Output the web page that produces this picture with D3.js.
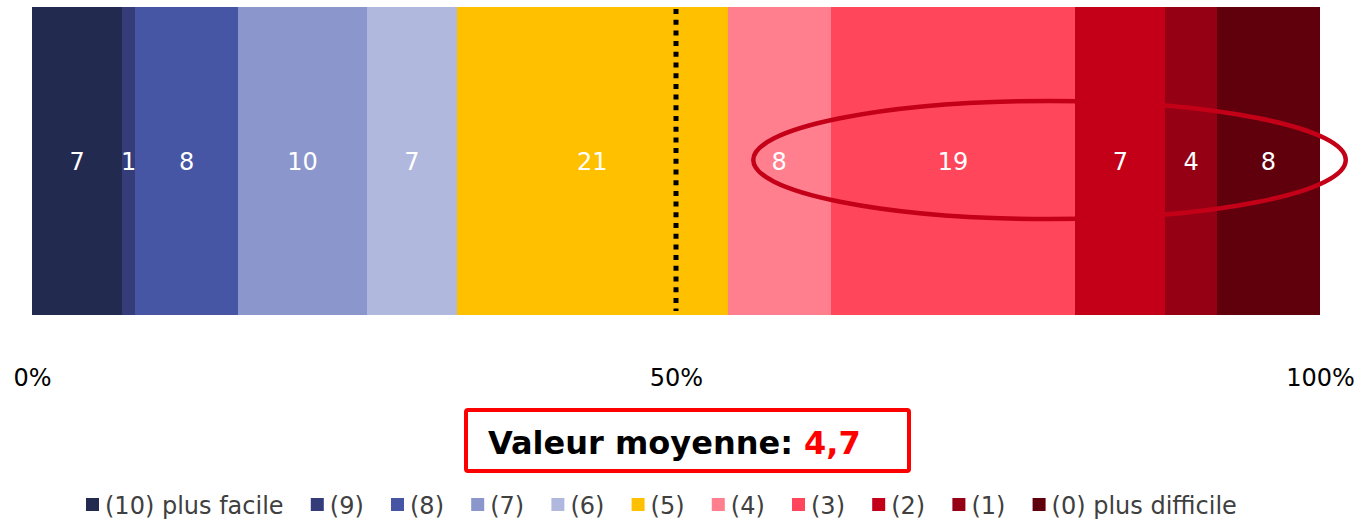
<!DOCTYPE html>
<html>
<head>
<meta charset="utf-8">
<script src="https://cdn.jsdelivr.net/npm/d3@7"></script>
<style>
  body { margin: 0; background: #fff; }
  text { font-family: "DejaVu Sans", Verdana, sans-serif; }
</style>
</head>
<body>
<div id="chart"></div>
<script>
// Data
const categories = ["(10) plus facile", "(9)", "(8)", "(7)", "(6)", "(5)", "(4)", "(3)", "(2)", "(1)", "(0) plus difficile"];
const values = [7, 1, 8, 10, 7, 21, 8, 19, 7, 4, 8];
const colors = ["#222A4F", "#343D7A", "#4755A5", "#8A96CC", "#B0B8DD", "#FFC000",
                "#FF7F8E", "#FF465A", "#C40018", "#950014", "#60000D"];
const tickValues = [0, 50, 100];
const meanLabel = "Valeur moyenne: ";
const meanValue = "4,7";
const midLine = 50;
// highlighted range (in % of the bar), drawn as an ellipse
const highlight = [56, 102];

const width = 1357, height = 520;
const margin = { top: 7, left: 32, right: 37 };
const barHeight = 308;

const svg = d3.select("#chart")
  .append("svg")
  .attr("width", width)
  .attr("height", height);

const x = d3.scaleLinear()
  .domain([0, 100])
  .range([margin.left, width - margin.right]);

const y0 = margin.top, y1 = margin.top + barHeight;

// stack the values
let acc = 0;
const segments = values.map((v, i) => {
  const s = { start: acc, end: acc + v, value: v, color: colors[i], name: categories[i] };
  acc += v;
  return s;
});

svg.selectAll("rect.seg")
  .data(segments)
  .enter()
  .append("rect")
  .attr("class", "seg")
  .attr("x", d => Math.round(x(d.start)))
  .attr("y", y0)
  .attr("width", d => Math.round(x(d.end)) - Math.round(x(d.start)))
  .attr("height", barHeight)
  .attr("fill", d => d.color)
  .attr("shape-rendering", "crispEdges");

// dotted 50% line
svg.append("line")
  .attr("x1", x(midLine))
  .attr("x2", x(midLine))
  .attr("y1", y0 + 2)
  .attr("y2", y1 - 4)
  .attr("stroke", "#000")
  .attr("stroke-width", 5)
  .attr("stroke-dasharray", "5,5.7");

// value labels
svg.selectAll("text.val")
  .data(segments)
  .enter()
  .append("text")
  .attr("class", "val")
  .attr("x", d => (x(d.start) + x(d.end)) / 2)
  .attr("y", (y0 + y1) / 2 + 9)
  .attr("text-anchor", "middle")
  .attr("fill", "#fff")
  .style("font-size", "24px")
  .text(d => d.value);

// highlight ellipse
svg.append("ellipse")
  .attr("cx", (x(highlight[0]) + x(highlight[1])) / 2)
  .attr("cy", (y0 + y1) / 2 - 1)
  .attr("rx", (x(highlight[1]) - x(highlight[0])) / 2)
  .attr("ry", 59)
  .attr("fill", "none")
  .attr("stroke", "#C40018")
  .attr("stroke-width", 4.5);

// axis labels
const axis = svg.append("g")
  .attr("transform", `translate(0, ${y1 + 40})`)
  .call(d3.axisBottom(x).tickValues(tickValues).tickFormat(d => d + "%").tickSize(0));
axis.select(".domain").remove();
axis.selectAll("text")
  .attr("dy", 0)
  .attr("y", 31)
  .attr("fill", "#000")
  .style("font-family", "DejaVu Sans, Verdana, sans-serif")
  .style("font-size", "24px");

// mean value box
svg.append("rect")
  .attr("x", 466)
  .attr("y", 410)
  .attr("width", 443)
  .attr("height", 61)
  .attr("rx", 2)
  .attr("fill", "#fff")
  .attr("stroke", "#FF0000")
  .attr("stroke-width", 4);

const meanText = svg.append("text")
  .attr("x", 488)
  .attr("y", 454)
  .style("font-size", "32px")
  .style("font-weight", "bold");
meanText.append("tspan").attr("fill", "#000").text(meanLabel);
meanText.append("tspan").attr("fill", "#FF0000").text(meanValue);

// legend
const legend = svg.append("g").attr("transform", "translate(86, 0)");
let lx = 0;
categories.forEach((c, i) => {
  const g = legend.append("g").attr("transform", `translate(${lx}, 0)`);
  g.append("rect")
    .attr("x", 0)
    .attr("y", 498)
    .attr("width", 13)
    .attr("height", 13)
    .attr("fill", colors[i]);
  const t = g.append("text")
    .attr("x", 19)
    .attr("y", 514)
    .attr("fill", "#404040")
    .style("font-size", "24px")
    .text(c);
  lx += 19 + t.node().getComputedTextLength() + 27.2;
});
</script>
</body>
</html>
